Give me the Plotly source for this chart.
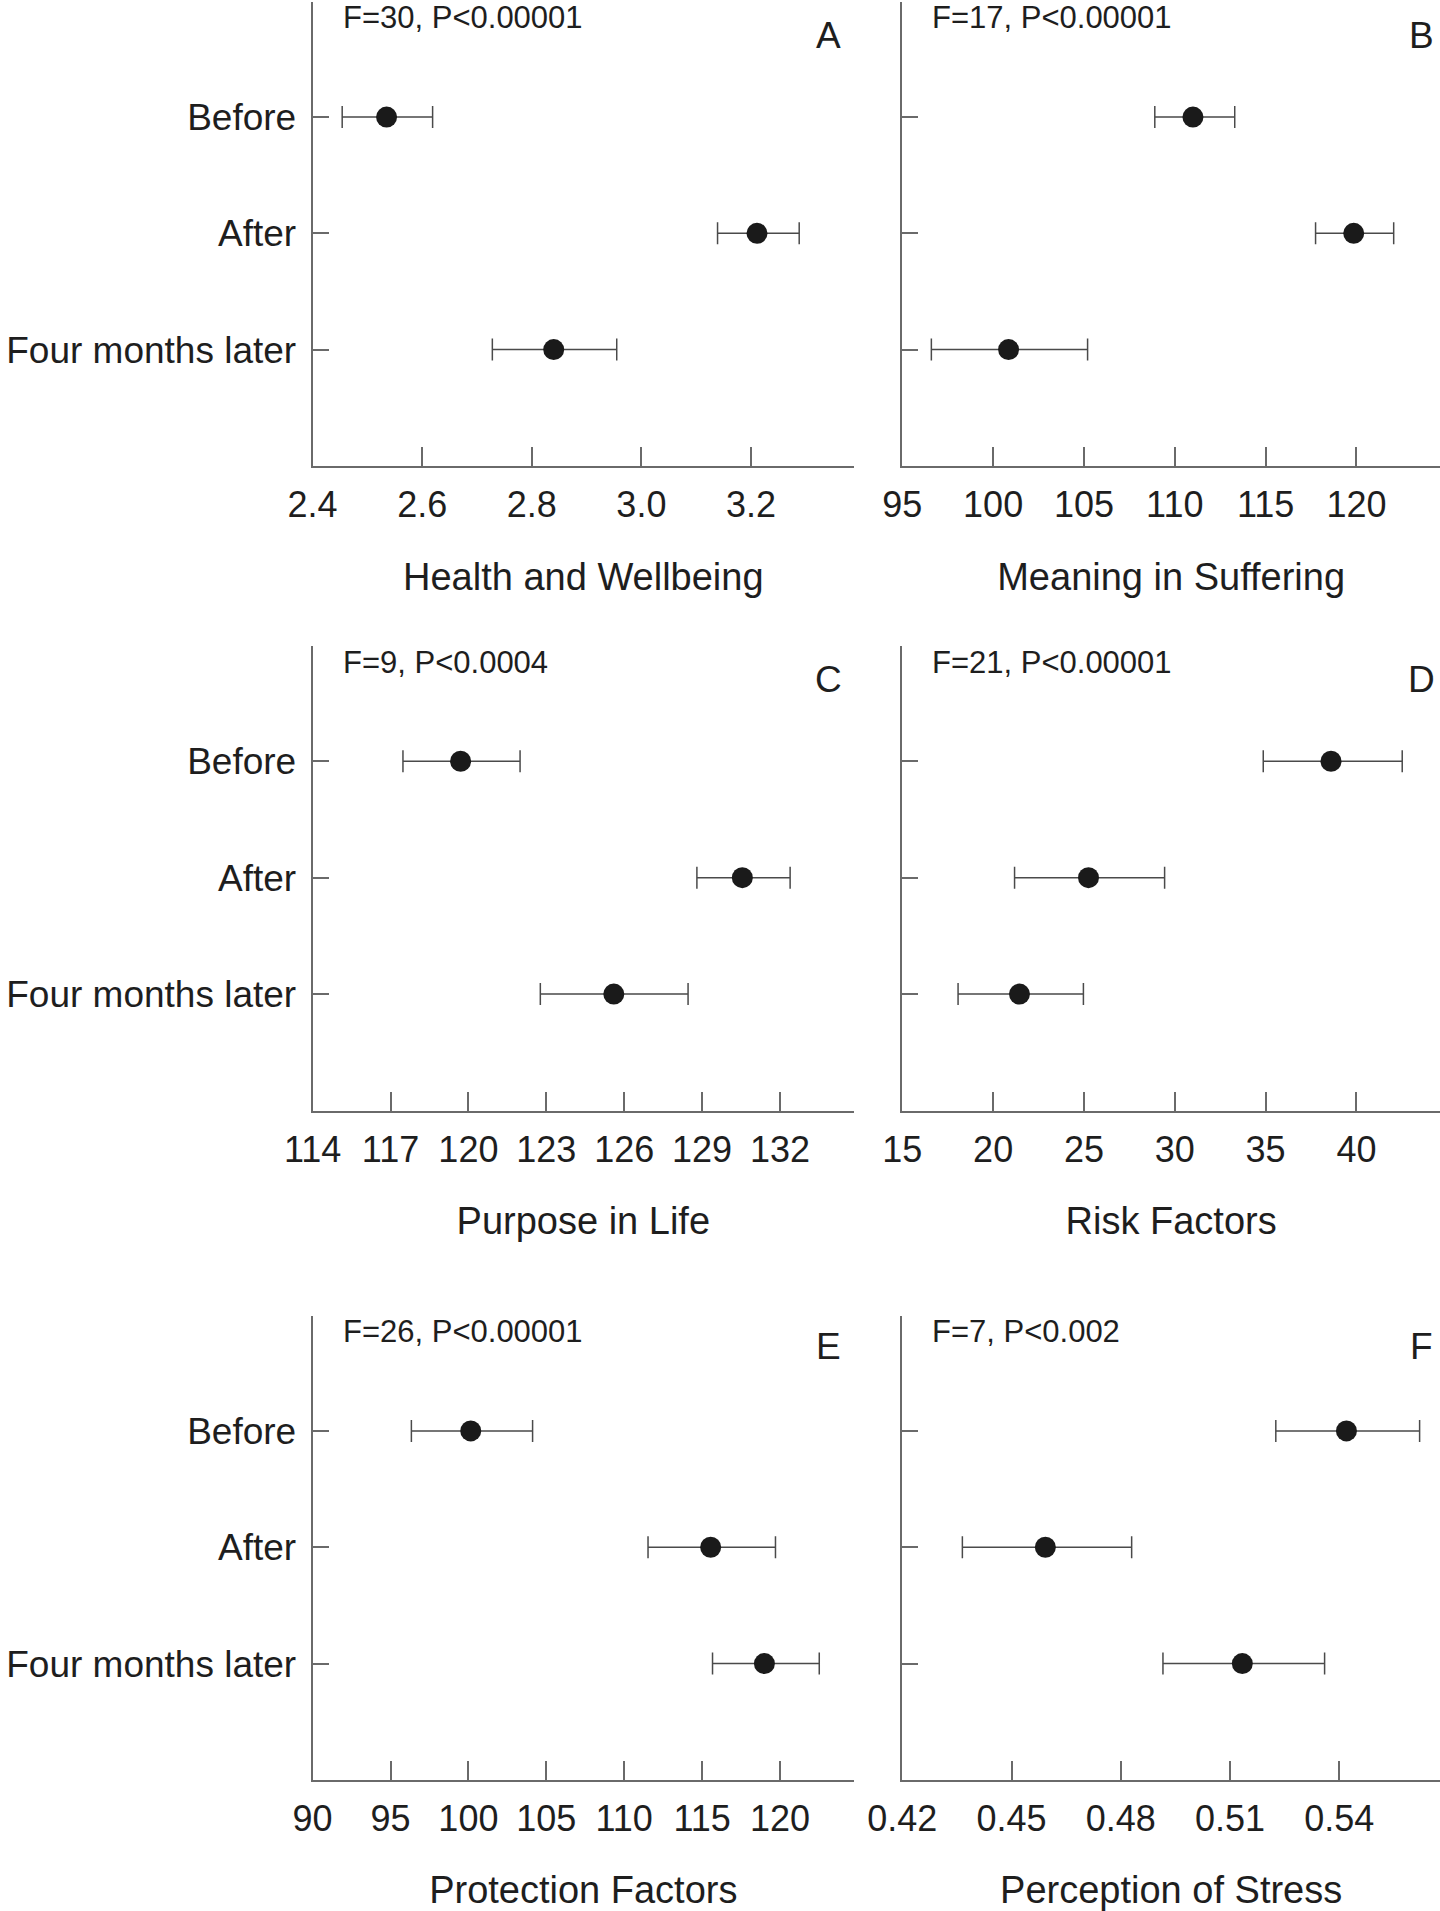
import plotly.graph_objects as go

W, H = 1440, 1911

groups = ["Before", "After", "Four months later"]

# panel A - Health and Wellbeing
hw_mean = [2.535, 3.211, 2.840]
hw_low = [2.454, 3.139, 2.728]
hw_high = [2.619, 3.288, 2.955]

# panel B - Meaning in Suffering
ms_mean = [111.0, 119.85, 100.85]
ms_low = [108.9, 117.75, 96.6]
ms_high = [113.3, 122.05, 105.2]

# panel C - Purpose in Life
pl_mean = [119.7, 130.55, 125.6]
pl_low = [117.48, 128.8, 122.77]
pl_high = [121.99, 132.39, 128.46]

# panel D - Risk Factors
rf_mean = [38.6, 25.25, 21.45]
rf_low = [34.87, 21.18, 18.07]
rf_high = [42.52, 29.44, 24.97]

# panel E - Protection Factors
pf_mean = [100.15, 115.55, 119.0]
pf_low = [96.34, 111.53, 115.67]
pf_high = [104.12, 119.71, 122.52]

# panel F - Perception of Stress
ps_mean = [0.5420, 0.4593, 0.5134]
ps_low = [0.5226, 0.4365, 0.4916]
ps_high = [0.5621, 0.4830, 0.5360]

stats = ["F=30, P<0.00001", "F=17, P<0.00001", "F=9, P<0.0004",
         "F=21, P<0.00001", "F=26, P<0.00001", "F=7, P<0.002"]
letters = ["A", "B", "C", "D", "E", "F"]
titles = ["Health and Wellbeing", "Meaning in Suffering", "Purpose in Life",
          "Risk Factors", "Protection Factors", "Perception of Stress"]

x_ticks = [
    [2.4, 2.6, 2.8, 3.0, 3.2],
    [95, 100, 105, 110, 115, 120],
    [114, 117, 120, 123, 126, 129, 132],
    [15, 20, 25, 30, 35, 40],
    [90, 95, 100, 105, 110, 115, 120],
    [0.42, 0.45, 0.48, 0.51, 0.54],
]
x_ranges = [[2.4, 3.388], [95, 124.6], [114, 134.85],
            [15, 44.6], [90, 124.75], [0.42, 0.5677]]
# unlabelled end tick on the left column panels
end_ticks = [3.388, None, 134.85, None, 124.75, None]

data = [(hw_mean, hw_low, hw_high), (ms_mean, ms_low, ms_high),
        (pl_mean, pl_low, pl_high), (rf_mean, rf_low, rf_high),
        (pf_mean, pf_low, pf_high), (ps_mean, ps_low, ps_high)]

# panel frames in pixels: (left, right), (top, bottom)
col_x = [(312.6, 854.0), (902.3, 1440.0)]
row_y = [(2.0, 465.8), (646.0, 1110.5), (1315.7, 1779.9)]

FONT = "Liberation Sans, Arial, sans-serif"
AXIS_COLOR = "#6a6a6a"
TEXT_COLOR = "#1e1e1e"


def px_x(v):
    return v / W


def px_y(v):
    return 1 - v / H


def fmt(v):
    if isinstance(v, float) and v < 1:
        return f"{v:.2f}"
    if isinstance(v, float):
        return f"{v:.1f}"
    return str(v)


fig = go.Figure()
layout = {}
annotations = []

for i in range(6):
    r, c = divmod(i, 2)
    n = i + 1
    xa = "x" if n == 1 else f"x{n}"
    ya = "y" if n == 1 else f"y{n}"
    mean, low, high = data[i]
    err_plus = [h - m for h, m in zip(high, mean)]
    err_minus = [m - l for m, l in zip(mean, low)]

    fig.add_trace(go.Scatter(
        x=mean, y=[0, 1, 2],
        mode="markers",
        marker=dict(size=21, color="#1a1a1a"),
        error_x=dict(type="data", array=err_plus, arrayminus=err_minus,
                     color="#4a4a4a", thickness=1.5, width=11),
        xaxis=xa, yaxis=ya, showlegend=False,
        hovertemplate="%{x}<extra></extra>",
    ))

    x0, x1 = col_x[c]
    y0, y1 = row_y[r]

    tv = list(x_ticks[i])
    tt = [fmt(v) for v in tv]
    if end_ticks[i] is not None:
        tv.append(end_ticks[i])
        tt.append("")

    layout["xaxis" if n == 1 else f"xaxis{n}"] = dict(
        domain=[px_x(x0), min(px_x(x1), 1.0)],
        anchor=ya,
        range=x_ranges[i],
        tickmode="array", tickvals=tv, ticktext=tt,
        ticks="inside", ticklen=19, tickwidth=2, tickcolor=AXIS_COLOR,
        showline=True, linecolor=AXIS_COLOR, linewidth=2,
        showgrid=False, zeroline=False,
        tickfont=dict(size=36, color=TEXT_COLOR, family=FONT),
        ticklabelstandoff=6,
        title=dict(text=titles[i], font=dict(size=38, color=TEXT_COLOR, family=FONT),
                   standoff=39),
        automargin=False,
    )
    layout["yaxis" if n == 1 else f"yaxis{n}"] = dict(
        domain=[px_y(y1), px_y(y0)],
        anchor=xa,
        range=[3, -0.99],
        tickmode="array", tickvals=[-0.99, 0, 1, 2],
        ticktext=["", *groups] if c == 0 else ["", "", "", ""],
        ticks="inside", ticklen=16, tickwidth=2, tickcolor=AXIS_COLOR,
        showline=True, linecolor=AXIS_COLOR, linewidth=2,
        showgrid=False, zeroline=False,
        tickfont=dict(size=37, color=TEXT_COLOR, family=FONT),
        ticklabelstandoff=7,
        automargin=False,
    )

    # F statistic, top left inside the frame
    annotations.append(dict(
        x=px_x(x0 + 28), y=px_y(y0 + 16), xref="paper", yref="paper",
        text=stats[i], showarrow=False, xanchor="left", yanchor="middle",
        font=dict(size=31, color=TEXT_COLOR, family=FONT),
    ))
    # panel letter, top right
    annotations.append(dict(
        x=px_x(829 if c == 0 else 1421), y=px_y(y0 + 33 if r < 2 else y0 + 31),
        xref="paper", yref="paper",
        text=letters[i], showarrow=False, xanchor="center", yanchor="middle",
        font=dict(size=37, color=TEXT_COLOR, family=FONT),
    ))

fig.update_layout(
    width=W, height=H,
    margin=dict(l=0, r=0, t=0, b=0),
    paper_bgcolor="white", plot_bgcolor="white",
    font=dict(family=FONT, color=TEXT_COLOR),
    annotations=annotations,
    **layout,
)

# drop the default page margin so the 1440x1911 figure fills the window exactly
fig.write_html("out.html", config={"displayModeBar": False},
               post_script="document.body.style.margin='0';")
